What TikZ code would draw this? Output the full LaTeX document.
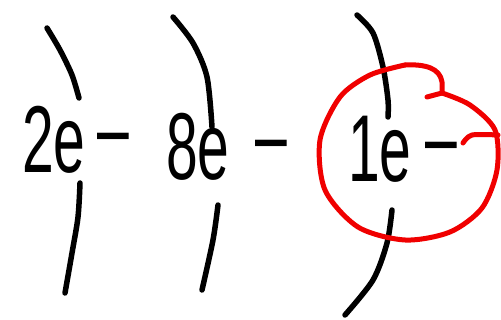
\documentclass[tikz,border=0pt]{standalone}
\usepackage{fontspec}
\setmainfont{Liberation Sans}
\usepackage{tikz}
\usetikzlibrary{calc}
\usepackage{xcolor}
\definecolor{inkblack}{RGB}{0,0,0}
\definecolor{markred}{RGB}{240,0,0}
\newcommand{\shellcount}[2][0.12em]{\scalebox{0.6}[1]{#2e\hspace{#1}\raisebox{0.13em}{--}}}

\begin{document}
\begin{tikzpicture}[x=1pt, y=-1pt,
    shell/.style={inkblack, line width=5.5pt, line cap=round, line join=round},
    count/.style={inkblack, anchor=base west, inner sep=0pt,
                  font=\fontsize{95}{95}\selectfont},
    ring/.style={markred, line width=5pt, line cap=round, line join=round}]
  \useasboundingbox (0,0) rectangle (501,320);

  % Inner shell
  \draw[shell] plot[smooth] coordinates {(47,28) (60,50) (72,75) (79,98)};
  \draw[shell] plot[smooth] coordinates {(80,183) (78,217) (72,253) (65,293)};

  % Middle shell
  \draw[shell] plot[smooth] coordinates {(173,17) (193,43) (207,77) (212,127)};
  \draw[shell] plot[smooth] coordinates {(218,205) (213,240) (202,290)};

  % Outer shell
  \draw[shell] plot[smooth] coordinates {(357,15) (373,33) (383,67) (388,100) (388,117)};
  \draw[shell] plot[smooth] coordinates {(392,210) (387,243) (373,280) (345,315)};

  % Electron counts
  \node[count] (inner) at (22,173) {\shellcount[0.2em]{2}};
  \node[count] (middle) at (166,180) {\shellcount[0.45em]{8}};
  \node[count] (outer) at (348,182) {\shellcount[0.25em]{1}};

  % Valence electron ring
  \draw[ring] plot[smooth] coordinates {(427,97) (442,93)};
  \draw[ring] (442,93) -- (442,82) .. controls (440,68) and (425,64) .. (405,65);
  \draw[ring] plot[smooth] coordinates {(405,65) (370,75) (340,97) (320,140)
    (325,190) (358,227) (405,240) (450,232) (482,208) (497,170) (495,130)
    (470,105) (442,93)};
  \draw[ring] plot[smooth] coordinates {(463,143) (472,135) (498,135)};
\end{tikzpicture}
\end{document}
